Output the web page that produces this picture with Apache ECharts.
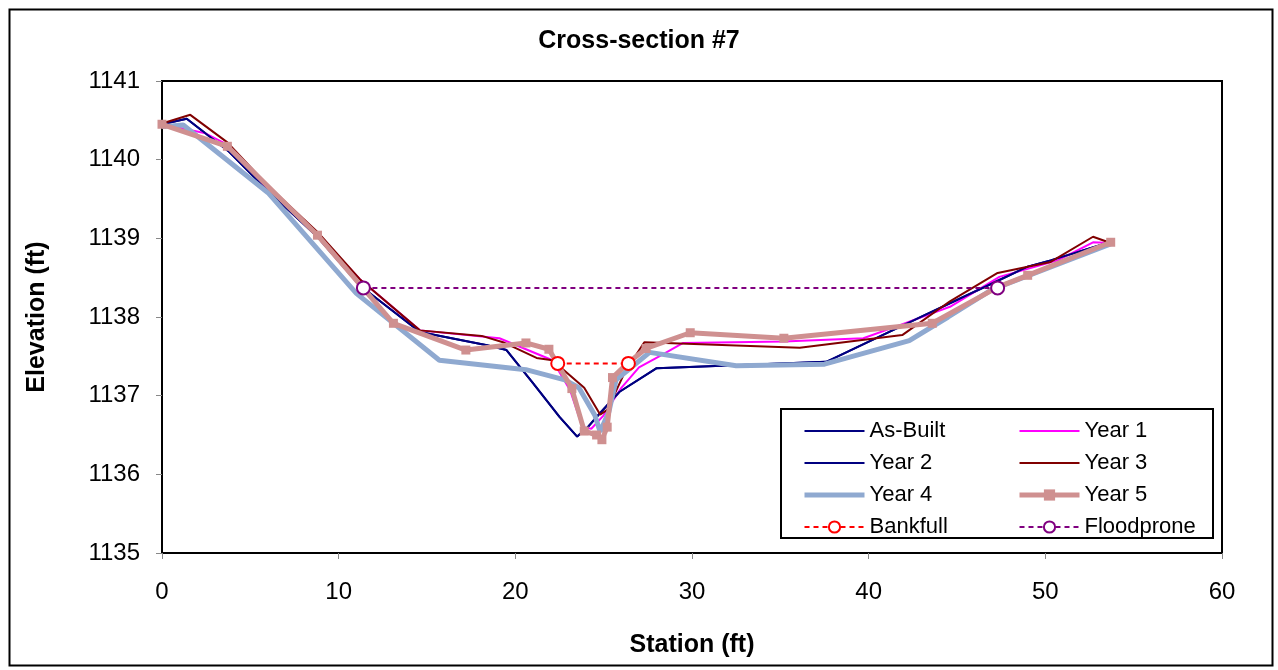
<!DOCTYPE html>
<html><head><meta charset="utf-8">
<script src="https://cdn.jsdelivr.net/npm/echarts@6/dist/echarts.min.js"></script>
<style>html,body{margin:0;padding:0;background:#fff}#c{width:1278px;height:670px}</style>
</head><body><div id="c"></div>
<script>
const title = "Cross-section #7";
const xName = "Station (ft)";
const yName = "Elevation (ft)";
const seriesNames = ["As-Built","Year 1","Year 2","Year 3","Year 4","Year 5","Bankfull","Floodprone"];
const asBuilt = [[0,1140.45],[1.4,1140.52],[3.8,1140.1],[6,1139.6],[8.8,1139.02],[11.2,1138.4],[14.6,1137.81],[18.4,1137.64],[19.5,1137.58],[21.0,1137.16],[22.5,1136.73],[23.5,1136.48],[24.1,1136.6],[24.8,1136.78],[25.9,1137.05],[28.0,1137.35],[37.6,1137.43],[42.0,1137.9],[47.4,1138.47],[49.0,1138.64],[50.3,1138.72],[53.5,1138.94]];
const year1 = [[0,1140.45],[2.4,1140.34],[3.7,1140.19],[6,1139.62],[8.8,1139.05],[11.2,1138.48],[14.6,1137.83],[19.1,1137.73],[22.1,1137.45],[23.1,1137.07],[23.8,1136.6],[24.3,1136.58],[25.0,1136.75],[26.0,1137.1],[27.0,1137.36],[28.3,1137.52],[29.5,1137.67],[35.2,1137.69],[39.7,1137.73],[41.8,1137.9],[44.6,1138.13],[47.4,1138.51],[50.7,1138.72],[52.7,1138.95],[53.7,1138.94]];
const year2 = [[0,1140.45],[1.4,1140.52],[3.8,1140.1],[6,1139.6],[8.8,1139.02],[11.2,1138.4],[14.6,1137.81],[18.4,1137.64],[19.5,1137.58],[21.0,1137.16],[22.5,1136.73],[23.5,1136.48],[24.1,1136.6],[24.8,1136.78],[25.9,1137.05],[28.0,1137.35],[37.6,1137.43],[42.0,1137.9],[47.4,1138.47],[49.0,1138.64],[50.3,1138.72],[53.5,1138.94]];
const year3 = [[0,1140.46],[1.6,1140.57],[3.7,1140.22],[6,1139.67],[8.8,1139.08],[11.2,1138.48],[14.6,1137.83],[18.1,1137.76],[19.3,1137.68],[21.2,1137.48],[22.1,1137.45],[23.9,1137.1],[24.8,1136.76],[25.2,1136.82],[26.2,1137.3],[27.3,1137.68],[36.1,1137.61],[41.9,1137.77],[44.6,1138.2],[47.3,1138.56],[50.3,1138.7],[52.7,1139.02],[53.7,1138.94]];
const year4 = [[0,1140.42],[1.2,1140.44],[6,1139.58],[11.0,1138.3],[15.7,1137.45],[20.6,1137.33],[22.8,1137.2],[23.6,1137.1],[24.5,1136.75],[24.8,1136.54],[25.3,1136.8],[25.7,1137.2],[26.4,1137.33],[27.6,1137.55],[32.5,1137.38],[37.5,1137.4],[42.3,1137.7],[44.5,1138.0],[47.0,1138.35],[53.7,1138.93]];
const year5 = [[0,1140.45],[3.7,1140.17],[8.8,1139.04],[13.1,1137.92],[17.2,1137.58],[20.6,1137.67],[21.9,1137.59],[23.2,1137.09],[23.9,1136.55],[24.6,1136.5],[24.9,1136.44],[25.2,1136.6],[25.5,1137.23],[26.4,1137.42],[27.4,1137.6],[29.9,1137.8],[35.2,1137.73],[43.6,1137.92],[47.3,1138.38],[49.0,1138.53],[53.7,1138.95]];
const bankfull = [[22.4,1137.41],[26.4,1137.41]];
const floodprone = [[11.4,1138.37],[47.3,1138.37]];
const xTicks = [0,10,20,30,40,50,60];
const yTicks = [1135,1136,1137,1138,1139,1140,1141];

const F = "'Liberation Sans', Arial, sans-serif";
function line(name, data, color, width, extra) {
  return Object.assign({
    name, type: 'line', data, symbol: 'none', showSymbol: false,
    lineStyle: {color, width}, itemStyle: {color},
    animation: false, silent: true
  }, extra || {});
}
const chart = echarts.init(document.getElementById('c'));
const legendCommon = {
  orient: 'vertical', itemWidth: 60, itemHeight: 14, itemGap: 10, z: 8,
  textStyle: {fontFamily: F, fontSize: 22, color: '#000', lineHeight: 22},
  selectedMode: false
};
const noSym = (name, w) => ({name, itemStyle: {opacity: 0}, lineStyle: {width: w}});
chart.setOption({
  animation: false,
  backgroundColor: '#fff',
  title: {text: title, left: 'center', top: 24, textStyle: {fontFamily: F, fontSize: 25, fontWeight: 'bold', color: '#000'}},
  grid: {left: 162, top: 81, width: 1060, height: 472, show: true, borderColor: '#000', borderWidth: 2, backgroundColor: 'transparent'},
  xAxis: {
    type: 'value', min: xTicks[0], max: xTicks[xTicks.length-1], interval: 10,
    name: xName, nameLocation: 'middle', nameGap: 80,
    nameTextStyle: {fontFamily: F, fontSize: 25, fontWeight: 'bold', color: '#000'},
    axisLine: {show: false}, axisTick: {show: true, length: 6, lineStyle: {color: '#888'}},
    splitLine: {show: false},
    axisLabel: {fontFamily: F, fontSize: 24, color: '#000', margin: 27}
  },
  yAxis: {
    type: 'value', min: yTicks[0], max: yTicks[yTicks.length-1], interval: 1,
    name: yName, nameLocation: 'middle', nameGap: 112, nameRotate: 90,
    nameTextStyle: {fontFamily: F, fontSize: 25, fontWeight: 'bold', color: '#000'},
    axisLine: {show: false}, axisTick: {show: true, length: 6, lineStyle: {color: '#888'}},
    splitLine: {show: false},
    axisLabel: {fontFamily: F, fontSize: 24, color: '#000', margin: 22, formatter: v => String(v)}
  },
  legend: [
    Object.assign({}, legendCommon, {left: 797, top: 415, data: [noSym('As-Built', 2), noSym('Year 2', 2), noSym('Year 4', 5), 'Bankfull']}),
    Object.assign({}, legendCommon, {left: 1012, top: 415, data: [noSym('Year 1', 2), noSym('Year 3', 2), {name: 'Year 5', lineStyle: {width: 5}}, 'Floodprone']})
  ],
  graphic: [
    {type: 'rect', left: 7, top: 7, shape: {width: 1263, height: 656}, style: {fill: 'none', stroke: '#000', lineWidth: 2}, silent: true, z: -10},
    {type: 'rect', left: 780, top: 408, shape: {width: 432, height: 129}, style: {fill: '#fff', stroke: '#000', lineWidth: 2}, silent: true, z: 3}
  ],
  series: [
    line(seriesNames[0], asBuilt, '#000080', 2),
    line(seriesNames[1], year1, '#ff00ff', 2),
    line(seriesNames[2], year2, '#000080', 2),
    line(seriesNames[3], year3, '#800000', 2),
    line(seriesNames[4], year4, '#8fa9d0', 5),
    line(seriesNames[5], year5, '#cf9090', 5, {symbol: 'rect', showSymbol: true, symbolSize: 9}),
    line(seriesNames[6], bankfull, '#ff0000', 2, {symbol: 'emptyCircle', showSymbol: true, symbolSize: 13, lineStyle: {color: '#ff0000', width: 2, type: [5,4]}, itemStyle: {color: '#ff0000', borderWidth: 1.5}}),
    line(seriesNames[7], floodprone, '#800080', 2, {symbol: 'emptyCircle', showSymbol: true, symbolSize: 13, lineStyle: {color: '#800080', width: 2, type: [5,4]}, itemStyle: {color: '#800080', borderWidth: 1.5}})
  ]
});
</script></body></html>
